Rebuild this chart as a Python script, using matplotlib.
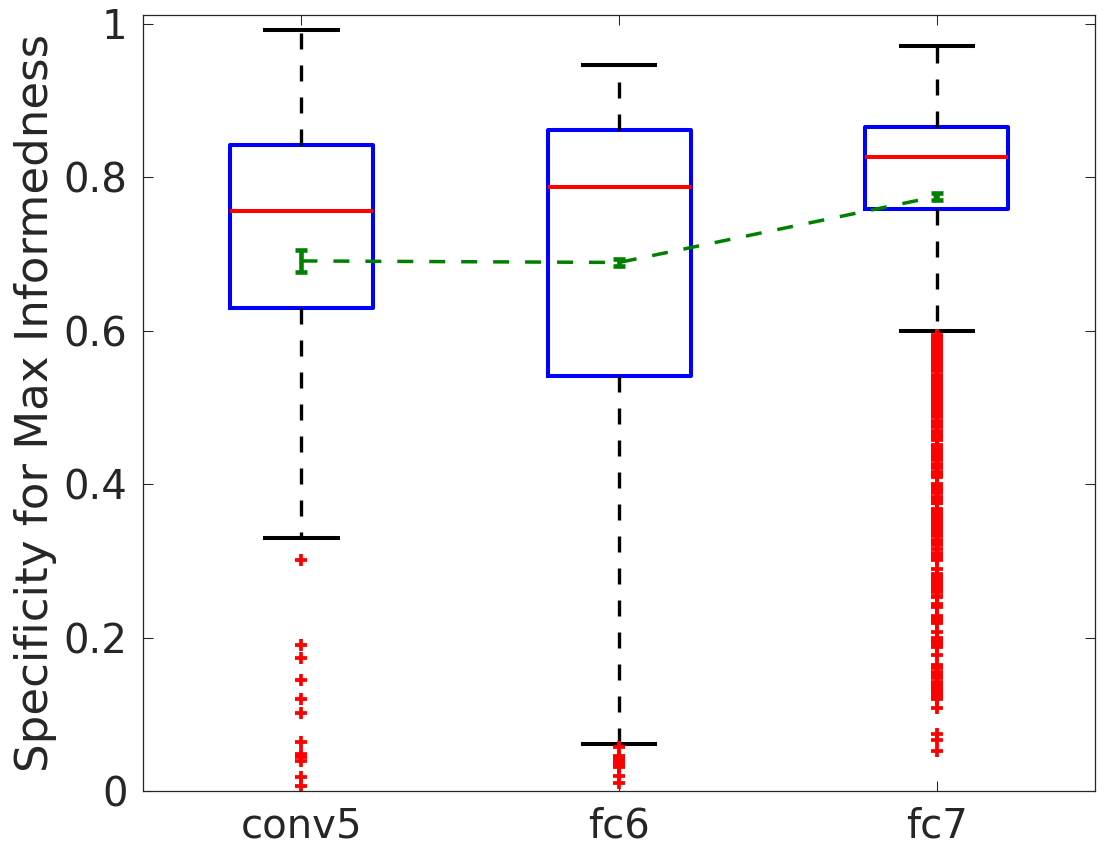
import matplotlib
matplotlib.use("Agg")
import matplotlib.pyplot as plt

# layer names
layers = ["conv5", "fc6", "fc7"]

# box statistics
medians = [0.756, 0.787, 0.826]
q1 = [0.630, 0.541, 0.759]
q3 = [0.842, 0.862, 0.866]
whis_lo = [0.330, 0.062, 0.600]
whis_hi = [0.992, 0.946, 0.971]

# outliers
fliers_conv5 = [0.301, 0.190, 0.173, 0.145, 0.120, 0.102, 0.064,
                0.048, 0.044, 0.040, 0.018, 0.0065]
fliers_fc6 = [0.058, 0.046, 0.042, 0.038, 0.034, 0.032, 0.020, 0.011]
fliers_fc7 = [0.595, 0.591, 0.587, 0.583, 0.579, 0.575, 0.571, 0.567,
              0.563, 0.559, 0.555, 0.551, 0.547, 0.543, 0.539, 0.535,
              0.531, 0.527, 0.523, 0.519, 0.515, 0.511, 0.507, 0.503,
              0.499, 0.495, 0.491, 0.487, 0.483,
              0.478, 0.474, 0.470, 0.466, 0.462, 0.458,
              0.451, 0.447, 0.443, 0.439, 0.435, 0.431, 0.427, 0.423, 0.421,
              0.416, 0.412, 0.410,
              0.400, 0.396, 0.392, 0.388, 0.384, 0.380, 0.376, 0.375,
              0.368, 0.364, 0.360, 0.356, 0.352, 0.348, 0.344, 0.340,
              0.336, 0.332, 0.328, 0.324, 0.321,
              0.315, 0.311, 0.307, 0.303, 0.301,
              0.289,
              0.283, 0.279, 0.275, 0.271, 0.267, 0.263, 0.259, 0.255, 0.253,
              0.244, 0.240,
              0.229, 0.225, 0.221, 0.219,
              0.207,
              0.200, 0.196, 0.192, 0.188,
              0.178,
              0.164, 0.160, 0.156, 0.152, 0.148,
              0.143, 0.139, 0.135, 0.131, 0.127, 0.123, 0.120,
              0.108, 0.075, 0.067, 0.053]

# mean with error bars (green dashed line)
means = [0.691, 0.689, 0.775]
mean_err = [0.0143, 0.0045, 0.004]

all_fliers = [fliers_conv5, fliers_fc6, fliers_fc7]

stats = []
for i in range(len(layers)):
    stats.append({"med": medians[i], "q1": q1[i], "q3": q3[i],
                  "whislo": whis_lo[i], "whishi": whis_hi[i],
                  "fliers": all_fliers[i], "label": layers[i]})

text_col = "#262626"
fig = plt.figure(figsize=(11.06, 8.52), dpi=100)
ax = fig.add_axes([0.129, 0.0713, 0.8615, 0.9107])

positions = [1, 2, 3]
ax.bxp(stats, positions=positions, widths=0.45, capwidths=0.227,
       boxprops=dict(color="blue", linewidth=2.9),
       medianprops=dict(color="red", linewidth=2.9),
       whiskerprops=dict(color="black", linewidth=2.4, linestyle=(0, (4.8, 4.8))),
       capprops=dict(color="black", linewidth=2.9),
       flierprops=dict(marker="+", markersize=9.1, markeredgewidth=2.7,
                       markeredgecolor="red", linestyle="none"))

ax.errorbar(positions, means, yerr=mean_err, color="green",
            linewidth=2.5, linestyle=(0, (4.6, 4.6)),
            elinewidth=3.3, capsize=4.6, capthick=3.3, zorder=5)

ax.set_xlim(0.5, 3.5)
ax.set_ylim(0, 1.011)
ax.set_xticks(positions)
ax.set_xticklabels(layers)
ax.set_yticks([0, 0.2, 0.4, 0.6, 0.8, 1.0])
ax.set_yticklabels(["0", "0.2", "0.4", "0.6", "0.8", "1"])
ax.tick_params(axis="both", direction="in", length=7, width=0.75,
               colors=text_col, labelsize=29, pad=11,
               left=True, right=True, top=True, bottom=True)
for s in ax.spines.values():
    s.set_linewidth(0.9)
    s.set_color(text_col)

ax.set_ylabel("Specificity for Max Informedness", fontsize=32.5,
              color=text_col, labelpad=5)

plt.savefig("out.png", dpi=100)
